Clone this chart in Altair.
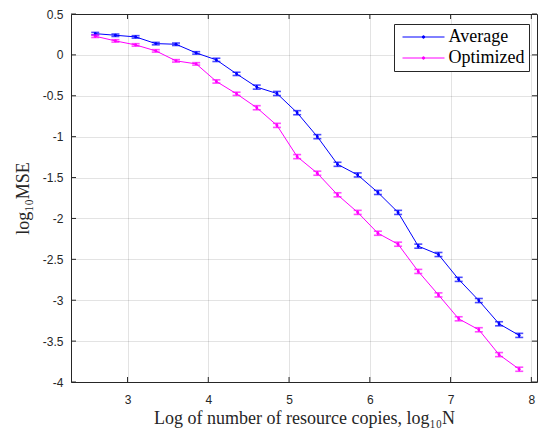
import altair as alt
import pandas as pd

# ---- data ----
series_names = ["Average", "Optimized"]
series_colors = ["#0000ff", "#ff00ff"]

x_vals = [2.6, 2.85, 3.1, 3.35, 3.6, 3.85, 4.1, 4.35, 4.6, 4.85, 5.1,
          5.35, 5.6, 5.85, 6.1, 6.35, 6.6, 6.85, 7.1, 7.35, 7.6, 7.85]

avg_vals = [0.26, 0.24, 0.22, 0.138, 0.13, 0.024, -0.061, -0.232, -0.394, -0.472, -0.707,
            -1.0, -1.338, -1.468, -1.682, -1.926, -2.339, -2.441, -2.745, -3.004, -3.288, -3.43]
opt_vals = [0.228, 0.171, 0.122, 0.049, -0.073, -0.11, -0.325, -0.476, -0.646, -0.862, -1.244,
            -1.447, -1.711, -1.926, -2.181, -2.315, -2.648, -2.935, -3.227, -3.361, -3.665, -3.844]

avg_err = [0.015, 0.015, 0.015, 0.015, 0.015, 0.015, 0.02, 0.02, 0.025, 0.025, 0.025,
           0.025, 0.025, 0.025, 0.025, 0.025, 0.025, 0.025, 0.025, 0.025, 0.025, 0.025]
opt_err = [0.015, 0.015, 0.015, 0.015, 0.015, 0.015, 0.02, 0.02, 0.025, 0.025, 0.025,
           0.025, 0.025, 0.025, 0.025, 0.025, 0.025, 0.025, 0.025, 0.025, 0.025, 0.025]

x_ticks = [3, 4, 5, 6, 7, 8]
y_ticks = [0.5, 0, -0.5, -1, -1.5, -2, -2.5, -3, -3.5, -4]

x_title = "Log of number of resource copies, log\u2081\u2080N"
y_title = "log\u2081\u2080MSE"

# ---- tables ----
rows = []
for name, vals, errs in [(series_names[0], avg_vals, avg_err), (series_names[1], opt_vals, opt_err)]:
    for i, (xv, yv, ev) in enumerate(zip(x_vals, vals, errs)):
        rows.append({"series": name, "x": xv, "y": yv, "err": ev, "order": i})
df = pd.DataFrame(rows)
xt = pd.DataFrame({"v": x_ticks})
yt = pd.DataFrame({"v": y_ticks})

W, H = 466, 368
TICK = 5
AXC = "#262626"

xs = alt.Scale(domain=[2.3, 8.07], nice=False, zero=False)
ys = alt.Scale(domain=[-4, 0.5], nice=False, zero=False)
cs = alt.Scale(domain=series_names, range=series_colors)

xax = alt.Axis(values=x_ticks, labelExpr="datum.value + ''", title=x_title, grid=True,
               ticks=False, domain=False, labelPadding=12, titlePadding=4)
yax = alt.Axis(values=y_ticks, labelExpr="datum.value + ''", title=y_title, grid=True,
               ticks=False, domain=False, labelPadding=8, titlePadding=10)

X = alt.X("x:Q", scale=xs, axis=xax)
Y = alt.Y("y:Q", scale=ys, axis=yax)
C_none = alt.Color("series:N", scale=cs, legend=None)

legend = alt.Legend(
    title=None, orient="none", legendX=323, legendY=10,
    strokeColor=AXC, fillColor="white", padding=4, cornerRadius=0,
    labelFont="Liberation Serif", labelFontSize=18, labelColor="black",
    symbolType="M-4.2,0H4.2M-0.25,0A0.25,0.25,0,1,1,0.25,0A0.25,0.25,0,1,1,-0.25,0",
    symbolSize=100, symbolStrokeWidth=1, symbolOffset=16.5, labelOffset=16, rowPadding=3,
)

base = alt.Chart(df)

line = base.mark_line(strokeWidth=1).encode(
    x=X, y=Y, color=alt.Color("series:N", scale=cs, legend=legend), order="order:Q"
)
pts = base.mark_point(filled=True, size=8, opacity=1).encode(x=X, y=Y, color=C_none)

err_rule = base.transform_calculate(
    lo="datum.y - datum.err", hi="datum.y + datum.err"
).mark_rule(strokeWidth=1.5).encode(
    x=X, y=alt.Y("lo:Q", scale=ys, axis=yax), y2="hi:Q", color=C_none
)
caps = base.transform_calculate(
    lo="datum.y - datum.err", hi="datum.y + datum.err"
).transform_fold(["lo", "hi"], as_=["end", "yy"]).mark_tick(
    orient="horizontal", size=8, thickness=1.6
).encode(x=X, y=alt.Y("yy:Q", scale=ys, axis=yax), color=C_none)

tick_bottom = alt.Chart(xt).mark_rule(color=AXC, strokeWidth=1).encode(
    x=alt.X("v:Q", scale=xs, axis=xax), y=alt.value(H), y2=alt.value(H - TICK)
)
tick_top = alt.Chart(xt).mark_rule(color=AXC, strokeWidth=1).encode(
    x=alt.X("v:Q", scale=xs, axis=xax), y=alt.value(0), y2=alt.value(TICK)
)
tick_left = alt.Chart(yt).mark_rule(color=AXC, strokeWidth=1).encode(
    y=alt.Y("v:Q", scale=ys, axis=yax), x=alt.value(0), x2=alt.value(TICK)
)
tick_right = alt.Chart(yt).mark_rule(color=AXC, strokeWidth=1).encode(
    y=alt.Y("v:Q", scale=ys, axis=yax), x=alt.value(W), x2=alt.value(W - TICK)
)

chart = alt.layer(
    tick_bottom, tick_top, tick_left, tick_right, line, pts, err_rule, caps
).properties(
    width=W, height=H,
    autosize=alt.AutoSizeParams(type="none"),
    padding={"left": 71, "top": 14, "right": 4, "bottom": 49},
    background="white",
).configure_view(
    stroke=AXC, strokeWidth=1
).configure_axis(
    labelFont="Liberation Sans", labelFontSize=12, labelColor=AXC,
    titleFont="Liberation Serif", titleFontSize=18, titleColor=AXC, titleFontWeight="normal",
    gridColor=AXC, gridOpacity=0.13, gridWidth=1,
)

chart.save("out.html", embed_options={"renderer": "svg", "actions": False})
